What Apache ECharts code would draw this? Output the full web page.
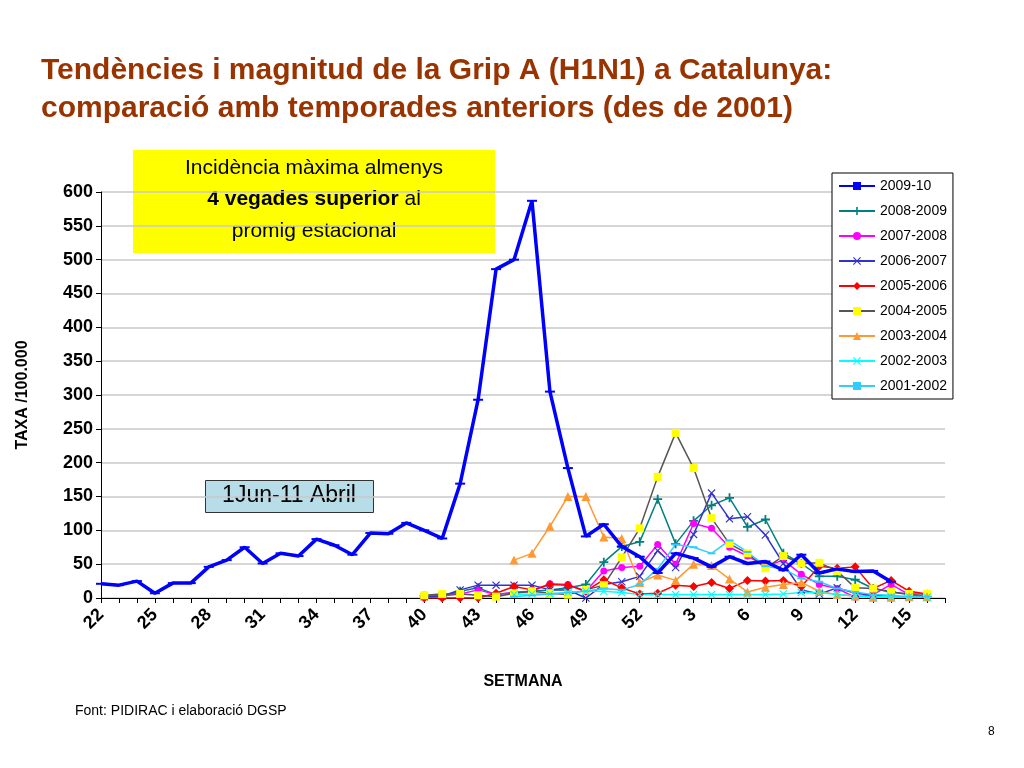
<!DOCTYPE html>
<html><head><meta charset="utf-8">
<script src="https://cdn.jsdelivr.net/npm/echarts@6/dist/echarts.min.js"></script>
<style>html,body{margin:0;background:#fff}#c{width:1024px;height:768px}</style></head>
<body><div id="c"></div>
<script>
const weeks = ['22','23','24','25','26','27','28','29','30','31','32','33','34','35','36','37','38','39','40','41','42','43','44','45','46','47','48','49','50','51','52','1','2','3','4','5','6','7','8','9','10','11','12','13','14','15','16','17'];
const N = null;
const pre = [N,N,N,N,N,N,N,N,N,N,N,N,N,N,N,N,N,N];
const s2009 = [21,19,25,7,22,22,46,56,75,51,66,62,87,78,64,96,95,111,100,88,169,293,486,500,587,305,192,91,109,76,61,37,66,59,46,61,51,54,41,64,37,43,39,40,24,N,N,N];
const s2008 = pre.concat([3,3,10,15,5,8,10,12,15,20,53,76,83,146,80,114,137,148,105,116,66,51,32,32,27,14,9,5,2]);
const s2007 = pre.concat([2,3,6,12,5,8,10,21,20,10,40,45,47,79,50,110,103,75,62,47,56,35,20,14,1,5,20,5,2]);
const s2006 = pre.concat([2,3,12,19,19,19,19,12,12,0,20,24,32,70,45,94,155,117,120,93,51,12,6,15,7,4,2,2,1]);
const s2005 = pre.concat([0,0,0,0,7,17,12,20,19,10,27,15,6,7,19,17,23,14,26,25,26,17,47,44,46,14,26,10,6]);
const s2004 = pre.concat([4,6,6,4,2,7,10,7,5,12,19,60,103,179,244,192,118,80,66,44,62,51,52,40,15,14,9,6,6]);
const s2003 = [N,N,N,N,N,N,N,N,N,N,N,N,N,N,N,N,N,N,N,N,N,N,N,56,66,106,150,150,90,88,23,34,26,50,48,28,9,16,20,23,10,5,3,1,1,2,2,N];
const s2002 = pre.concat([N,N,N,N,N,5,6,6,8,10,10,8,5,5,5,5,5,5,5,5,6,8,8,5,3,2,2,2,1]);
const s2001 = pre.concat([N,N,N,N,N,2,4,6,8,10,14,12,20,43,79,75,66,85,68,47,43,29,24,14,9,5,4,2,2]);

const mk = (name, data, color, symbol, size, lineColor, width) => ({
  name, type:'line', data, symbol, symbolSize:size, showSymbol:true, connectNulls:false,
  itemStyle:{color:color}, lineStyle:{color:lineColor||color, width:width||1.5}, z: width?5:3
});
const X = 'path://M0,1L1,0L5,4L9,0L10,1L6,5L10,9L9,10L5,6L1,10L0,9L4,5Z';
const series = [
  mk('2009-10', s2009, '#0000ff', 'rect', [10,2], '#0000ff', 3.5),
  mk('2008-2009', s2008, '#008080', 'path://M4,0H6V4H10V6H6V10H4V6H0V4H4Z', 9),
  mk('2007-2008', s2007, '#ff00ff', 'circle', 7),
  mk('2006-2007', s2006, '#3333cc', X, 8),
  mk('2005-2006', s2005, '#ff0000', 'diamond', 9),
  mk('2004-2005', s2004, '#ffff00', 'rect', 8, '#555555'),
  mk('2003-2004', s2003, '#ff9933', 'triangle', 9),
  mk('2002-2003', s2002, '#00ffff', X, 8),
  mk('2001-2002', s2001, '#33ccff', 'rect', [8,2]),
];
const F = 'Liberation Sans, Arial';
const chart = echarts.init(document.getElementById('c'));
chart.setOption({
  animation:false,
  textStyle:{fontFamily:F},
  title:{text:'Tendències i magnitud de la Grip A (H1N1) a Catalunya:\ncomparació amb temporades anteriors (des de 2001)',
    left:36, top:47, textStyle:{color:'#993300', fontSize:30, fontWeight:'bold', lineHeight:38, fontFamily:F}},
  legend:{orient:'vertical', left:832, top:173, width:125, itemGap:11, itemWidth:36, itemHeight:10,
    backgroundColor:'#fff', borderColor:'#000', borderWidth:1, padding:[6,6,6,6],
    textStyle:{fontSize:14, color:'#000'}, data:series.map(s=>s.name)},
  grid:{left:101, right:79, top:192, bottom:170},
  xAxis:{type:'category', data:weeks, boundaryGap:false, name:'SETMANA', nameLocation:'middle', nameGap:76,
    nameTextStyle:{fontSize:16, fontWeight:'bold', color:'#000'},
    axisLine:{lineStyle:{color:'#000'}}, axisTick:{show:true, interval:0, lineStyle:{color:'#000'}},
    axisLabel:{interval:2, rotate:45, fontSize:18, fontWeight:'bold', color:'#000', margin:14},
    splitLine:{show:false}},
  yAxis:{type:'value', min:0, max:600, interval:50, name:'TAXA /100.000', nameLocation:'middle', nameGap:70,
    nameTextStyle:{fontSize:16, fontWeight:'bold', color:'#000'},
    axisLine:{show:true, lineStyle:{color:'#000'}}, axisTick:{show:true, lineStyle:{color:'#000'}},
    axisLabel:{fontSize:18, fontWeight:'bold', color:'#000'},
    splitLine:{lineStyle:{color:'#c8c8c8', width:1.5}}},
  series,
  graphic:[
    {type:'rect', left:133, top:150, shape:{width:362, height:103}, style:{fill:'#ffff00'}},
    {type:'text', x:314, y:158, style:{text:'Incidència màxima almenys', font:'21px '+F, fill:'#000', align:'center'}},
    {type:'text', x:314, y:189, style:{rich:{b:{fontSize:21, fontWeight:'bold', fontFamily:F}, n:{fontSize:21, fontFamily:F}}, text:'{b|4 vegades superior}{n| al}', fill:'#000', align:'center'}},
    {type:'text', x:314, y:221, style:{text:'promig estacional', font:'21px '+F, fill:'#000', align:'center'}},
    {type:'rect', left:205, top:480, shape:{width:168, height:32}, style:{fill:'#b7dde8', stroke:'#333', lineWidth:1}},
    {type:'text', x:289, y:484, style:{text:'1Jun-11 Abril', font:'23px '+F, fill:'#000', align:'center'}},
    {type:'text', left:75, top:704, style:{text:'Font: PIDIRAC i elaboració DGSP', fontSize:14, fill:'#000', fontFamily:F}},
    {type:'text', left:988, top:726, style:{text:'8', fontSize:12, fill:'#000'}}
  ]
});
</script></body></html>
